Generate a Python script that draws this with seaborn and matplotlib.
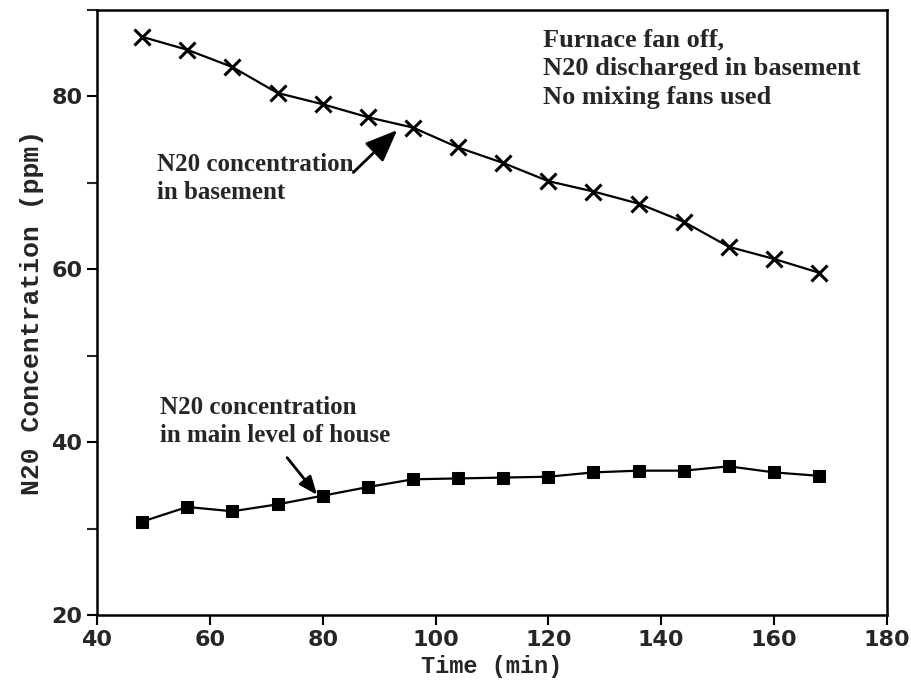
import numpy as np
import pandas as pd
import matplotlib
matplotlib.use("Agg")
import matplotlib.pyplot as plt
import seaborn as sns

# values
time_min = [48, 56, 64, 72, 80, 88, 96, 104, 112, 120, 128, 136, 144, 152, 160, 168]
basement = [86.9, 85.4, 83.4, 80.4, 79.1, 77.6, 76.4, 74.1, 72.3, 70.2, 69.0, 67.6, 65.5, 62.6, 61.2, 59.6]
main_level = [30.8, 32.5, 32.0, 32.8, 33.8, 34.8, 35.7, 35.8, 35.9, 36.0, 36.5, 36.7, 36.7, 37.2, 36.5, 36.1]

sns.set_style("ticks")
plt.rcParams['font.family'] = ['Liberation Serif', 'DejaVu Sans']

df = pd.DataFrame({'time': time_min, 'basement': basement, 'main': main_level})

fig = plt.figure(figsize=(9.11, 6.92), dpi=100)
ax = fig.add_axes([0.1065, 0.1113, 0.867, 0.8742])

sns.lineplot(data=df, x='time', y='basement', ax=ax, color='black', lw=1.6,
             marker='x', markersize=11, markeredgewidth=2.2, markeredgecolor='black')
sns.lineplot(data=df, x='time', y='main', ax=ax, color='black', lw=1.6,
             marker='s', markersize=9, markerfacecolor='black', markeredgecolor='black')

ax.set_xlim(40, 180)
ax.set_ylim(20, 90)
ax.set_xticks(np.arange(40, 181, 20))
ax.set_yticks([20, 40, 60, 80])
ax.set_yticks([30, 50, 70, 90], minor=True)
ax.tick_params(axis='both', which='major', direction='out', length=7, width=1.5,
               labelsize=16, color='black')
ax.tick_params(axis='y', which='minor', direction='out', length=7, width=1.5)
for lab in ax.get_xticklabels() + ax.get_yticklabels():
    lab.set_fontfamily('DejaVu Sans')
    lab.set_fontweight('bold')
for sp in ax.spines.values():
    sp.set_visible(True)
    sp.set_linewidth(1.8)
    sp.set_color('black')

ax.set_xlabel('Time (min)', fontsize=17, fontfamily='Liberation Mono', fontweight='bold', labelpad=4)
ax.set_ylabel('N20 Concentration (ppm)', fontsize=19, fontfamily='Liberation Mono',
              fontweight='bold', labelpad=5)

ax.text(119.0, 83.2, 'Furnace fan off,\nN20 discharged in basement\nNo mixing fans used',
        fontsize=19, fontweight='bold', ha='left', va='center', linespacing=1.32)
ax.annotate('N20 concentration\nin basement', xy=(93.2, 76.1), xytext=(50.6, 70.5),
            fontsize=18, fontweight='bold', ha='left', va='center', linespacing=1.3,
            arrowprops=dict(arrowstyle='-|>,head_length=1.1,head_width=0.45', color='black', lw=2,
                            shrinkA=0, shrinkB=0, patchA=None, relpos=(1.0, 0.62)))
ax.annotate('N20 concentration\nin main level of house', xy=(79.0, 33.9), xytext=(51.2, 42.4),
            fontsize=18, fontweight='bold', ha='left', va='center', linespacing=1.25)
ax.annotate('', xy=(79.0, 33.9), xytext=(73.7, 38.2),
            arrowprops=dict(arrowstyle='-|>,head_length=1.1,head_width=0.45', color='black', lw=2,
                            shrinkA=0, shrinkB=0))

fig.savefig('out.png', dpi=100)
